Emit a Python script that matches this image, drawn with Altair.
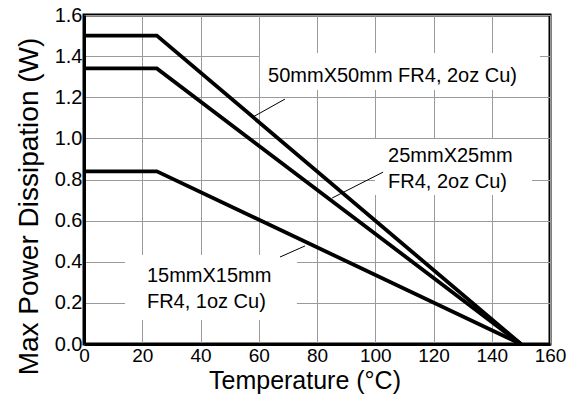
import altair as alt
import pandas as pd

# series: (label, temperature points, power points)
series_names = ["50mmX50mm", "25mmX25mm", "15mmX15mm"]
temps = [0, 25, 150]
power_50 = [1.50, 1.50, 0.0]
power_25 = [1.34, 1.34, 0.0]
power_15 = [0.84, 0.84, 0.0]

x_ticks = [0, 20, 40, 60, 80, 100, 120, 140, 160]
y_ticks = [0.0, 0.2, 0.4, 0.6, 0.8, 1.0, 1.2, 1.4, 1.6]

# annotation texts (in data units)
ann_lines = [
    ["50mmX50mm FR4, 2oz Cu)"],
    ["25mmX25mm", "FR4, 2oz Cu)"],
    ["15mmX15mm", "FR4, 1oz Cu)"],
]
ann_x = [63.2, 104.4, 21.6]
ann_y = [1.274, 0.885, 0.302]
box_x1 = [60.4, 99.9, 14.1]
box_x2 = [156.6, 153.8, 73.1]
box_y1 = [1.235, 0.725, 0.117]
box_y2 = [1.415, 0.997, 0.433]
lead_x1 = [69.0, 102.7, 67.3]
lead_y1 = [1.191, 0.836, 0.423]
lead_x2 = [58.0, 85.2, 75.9]
lead_y2 = [1.104, 0.71, 0.477]

rows = []
for name, vals in zip(series_names, [power_50, power_25, power_15]):
    for t, p in zip(temps, vals):
        rows.append({"series": name, "t": t, "p": p})
df = pd.DataFrame(rows)

boxes = pd.DataFrame({"x1": box_x1, "x2": box_x2, "y1": box_y1, "y2": box_y2})
leads = pd.DataFrame({"x1": lead_x1, "x2": lead_x2, "y1": lead_y1, "y2": lead_y2})
texts = pd.DataFrame({"x": ann_x, "y": ann_y, "txt": ann_lines})

FONT = "Liberation Sans"

xscale = alt.Scale(domain=[0, 160], nice=False, zero=False)
yscale = alt.Scale(domain=[0, 1.6], nice=False, zero=False)

xaxis = alt.Axis(values=x_ticks, title="Temperature (°C)", grid=True,
                 labelFlush=False, labelOverlap=False, tickSize=0, labelPadding=2,
                 labelFontSize=19,
                 titleX=220.5, titleY=44, titleBaseline="alphabetic",
                 titleAnchor="middle", titleAlign="center")
yaxis = alt.Axis(values=y_ticks, format=".1f", title="Max Power Dissipation (W)",
                 grid=True, labelFlush=False, labelOverlap=False, tickSize=0,
                 labelPadding=2, titleAngle=270, titleX=-47, titleY=191,
                 titleBaseline="alphabetic", titleAlign="center")

base_x = alt.X("t:Q", scale=xscale, axis=xaxis)
base_y = alt.Y("p:Q", scale=yscale, axis=yaxis)

lines = alt.Chart(df).mark_line(color="black", strokeWidth=3.8, strokeJoin="miter").encode(
    x=base_x, y=base_y, detail="series:N"
)

box_layer = alt.Chart(boxes).mark_rect(color="white", opacity=1).encode(
    x=alt.X("x1:Q", scale=xscale), x2="x2:Q",
    y=alt.Y("y1:Q", scale=yscale), y2="y2:Q"
)

lead_layer = alt.Chart(leads).mark_rule(color="black", strokeWidth=1).encode(
    x=alt.X("x1:Q", scale=xscale), x2="x2:Q",
    y=alt.Y("y1:Q", scale=yscale), y2="y2:Q"
)

text_layer = alt.Chart(texts).mark_text(
    font=FONT, fontSize=20, align="left", baseline="alphabetic",
    color="black", lineHeight=26
).encode(
    x=alt.X("x:Q", scale=xscale), y=alt.Y("y:Q", scale=yscale), text="txt"
)

chart = alt.layer(box_layer, lines, lead_layer, text_layer).properties(
    width=466, height=329,
    autosize=alt.AutoSizeParams(type="none"),
    padding={"left": 84, "top": 15, "right": 26, "bottom": 52},
    background="white",
).configure_view(
    stroke="black", strokeWidth=3
).configure_axis(
    labelFont=FONT, titleFont=FONT, labelFontSize=20, titleFontSize=28,
    labelColor="black", titleColor="black", titleFontWeight="normal",
    domainColor="black", domainWidth=3, gridColor="#9a9a9a", gridWidth=1,
    gridOpacity=1
).configure_axisX(titleFontSize=25)

chart.save("out.html", embed_options={"renderer": "svg", "actions": False})
